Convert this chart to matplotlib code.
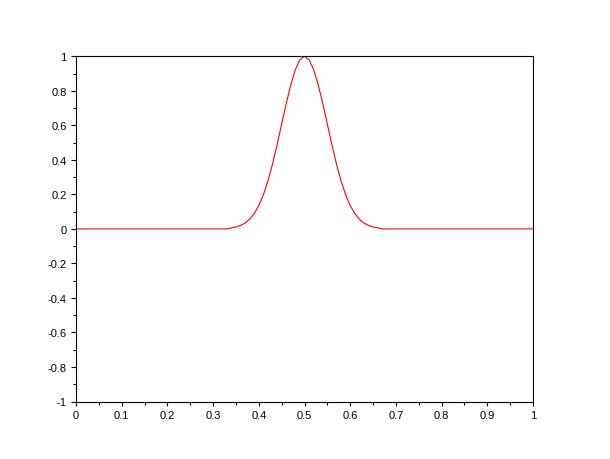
import matplotlib
matplotlib.use("Agg")
import matplotlib.pyplot as plt
from matplotlib.ticker import MultipleLocator, FuncFormatter

# values
x_vals = [0.0, 0.33, 0.34, 0.35, 0.36, 0.37, 0.38, 0.39, 0.40, 0.41, 0.42,
          0.43, 0.44, 0.45, 0.46, 0.47, 0.48, 0.49, 0.50, 0.51, 0.52,
          0.53, 0.54, 0.55, 0.56, 0.57, 0.58, 0.59, 0.60, 0.61, 0.62,
          0.63, 0.64, 0.65, 0.66, 0.67, 1.0]
y_vals = [0.0, 0.0, 0.006, 0.011, 0.020, 0.034, 0.056, 0.089, 0.135, 0.198, 0.278,
          0.375, 0.487, 0.607, 0.726, 0.835, 0.923, 0.980, 1.0, 0.980, 0.923,
          0.835, 0.726, 0.607, 0.487, 0.375, 0.278, 0.198, 0.135, 0.089, 0.056,
          0.034, 0.020, 0.011, 0.006, 0.0, 0.0]

plt.rcParams['font.family'] = ['Liberation Sans', 'DejaVu Sans']
plt.rcParams['axes.unicode_minus'] = False

fig = plt.figure(figsize=(6.1, 4.6), dpi=100)
ax = fig.add_axes([76/610, 1-402.5/460, 457/610, 345.2/460])
ax.plot(x_vals, y_vals, color='#ff0000', linewidth=0.8)
ax.set_xlim(0, 1)
ax.set_ylim(-1, 1)

ax.xaxis.set_major_locator(MultipleLocator(0.1))
ax.xaxis.set_minor_locator(MultipleLocator(0.05))
ax.yaxis.set_major_locator(MultipleLocator(0.2))
ax.yaxis.set_minor_locator(MultipleLocator(0.1))
fmt = FuncFormatter(lambda v, p: '%g' % (round(v, 6) + 0.0))
ax.xaxis.set_major_formatter(fmt)
ax.yaxis.set_major_formatter(fmt)

ax.tick_params(axis='x', which='major', direction='out', length=3.2, width=0.8, labelsize=8, pad=3)
ax.tick_params(axis='x', which='minor', direction='out', length=1.8, width=0.8)
ax.tick_params(axis='y', which='major', direction='out', length=3.8, width=0.8, labelsize=8, pad=3)
ax.tick_params(axis='y', which='minor', direction='out', length=2.0, width=0.8)
for s in ax.spines.values():
    s.set_linewidth(0.8)
    s.set_color('black')

fig.savefig('out.png', dpi=100)
